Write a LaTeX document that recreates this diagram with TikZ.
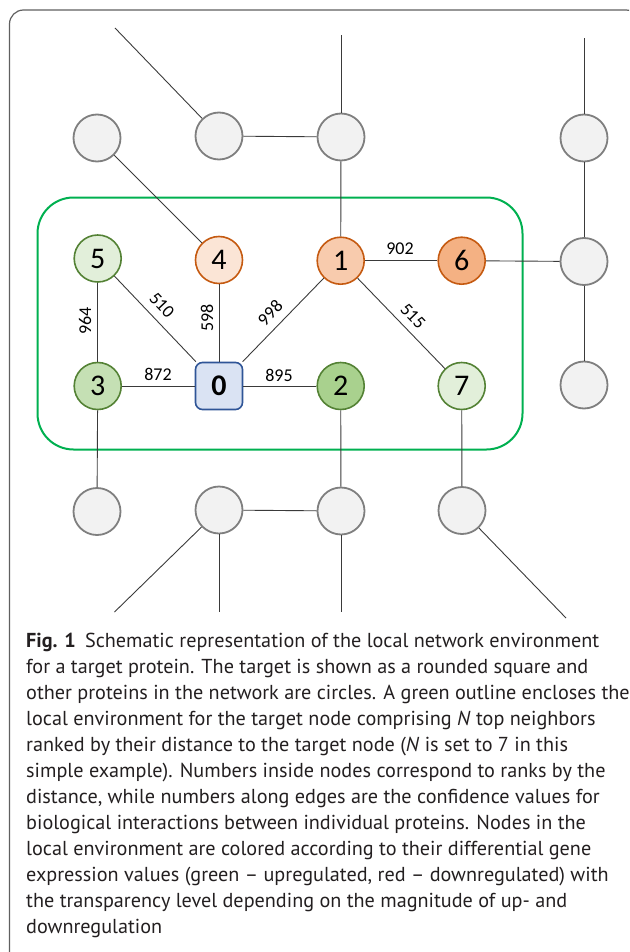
\documentclass[tikz,border=0pt]{standalone}
\usepackage{fontspec}
\setmainfont{PT Sans}
\newfontfamily\calib{Carlito}
\definecolor{framec}{HTML}{606060}
\definecolor{envc}{HTML}{00B050}
\definecolor{edgec}{HTML}{3A3A3A}
\definecolor{grayd}{HTML}{7F7F7F}
\definecolor{grayf}{HTML}{F2F2F2}
\definecolor{grd}{HTML}{548235}
\definecolor{ord}{HTML}{C55A11}
\definecolor{bld}{HTML}{2F5597}
\definecolor{blf}{HTML}{DAE3F3}
\definecolor{fa}{HTML}{E2EFDA}
\definecolor{fb}{HTML}{C5E0B4}
\definecolor{fc}{HTML}{A9D18E}
\definecolor{fd}{HTML}{FBE5D6}
\definecolor{fe}{HTML}{F8CBAD}
\definecolor{ff}{HTML}{F4B183}
\definecolor{captc}{HTML}{231F20}
\begin{document}
\begin{tikzpicture}[x=1pt,y=-1pt,
  gnode/.style={circle,draw=grayd,fill=grayf,line width=1.8pt,minimum size=47pt,inner sep=0pt},
  gnum/.style={circle,draw=grd,line width=1.6pt,minimum size=47pt,inner sep=0pt,font=\calib\fontsize{30}{30}\selectfont},
  onum/.style={circle,draw=ord,line width=1.6pt,minimum size=47pt,inner sep=0pt,font=\calib\fontsize{30}{30}\selectfont},
  tnode/.style={rectangle,rounded corners=7pt,draw=bld,fill=blf,line width=1.6pt,minimum size=47pt,inner sep=0pt,font=\calib\bfseries\fontsize{30}{30}\selectfont},
  lnk/.style={draw=edgec,line width=0.9pt},
  glnk/.style={draw=edgec,line width=0.9pt},
  elab/.style={font=\calib\fontsize{18}{18}\selectfont,inner sep=0pt,text=black}]
\useasboundingbox (0,0) rectangle (629,952);
\begin{scope}
\clip (0,0) rectangle (629,952);
\draw[framec,line width=1.2pt,rounded corners=14pt] (9.5,10) rectangle (640,1000);
\end{scope}
% local environment outline
\draw[envc,line width=2pt,rounded corners=36pt] (37.5,197.5) rectangle (522.5,449.5);
% outer network nodes
\node[gnode] (g1) at (97,138) {};
\node[gnode] (g2) at (219,136) {};
\node[gnode] (g3) at (341,137) {};
\node[gnode] (g4) at (584,138) {};
\node[gnode] (g5) at (584,261.5) {};
\node[gnode] (g6) at (584,385) {};
\node[gnode] (g7) at (97,511.5) {};
\node[gnode] (g8) at (219,510) {};
\node[gnode] (g9) at (341,511) {};
\node[gnode] (g10) at (462,510.5) {};
% local nodes
\node[tnode] (n0) at (219,386) {0};
\node[onum,fill=fe] (n1) at (340.7,260.7) {1};
\node[gnum,fill=fc] (n2) at (340.7,386) {2};
\node[gnum,fill=fb] (n3) at (97.7,386) {3};
\node[onum,fill=fd] (n4) at (219,260) {4};
\node[gnum,fill=fa] (n5) at (97.7,258.5) {5};
\node[onum,fill=ff] (n6) at (461.7,260.7) {6};
\node[gnum,fill=fa] (n7) at (461.7,386) {7};
% free ends
\coordinate (e1) at (115,28);
\coordinate (e2) at (341,35);
\coordinate (e3) at (584,38);
\coordinate (e4) at (114.5,612);
\coordinate (e5) at (219,612);
\coordinate (e6) at (341,612);
\coordinate (e7) at (566,618);
% outer edges
\draw[glnk] (g2) -- (e1);
\draw[glnk] (g3) -- (e2);
\draw[glnk] (g4) -- (e3);
\draw[glnk] (g2) -- (g3);
\draw[glnk] (g1) -- (n4);
\draw[glnk] (g3) -- (n1);
\draw[glnk] (g4) -- (g5);
\draw[glnk] (n6) -- (g5);
\draw[glnk] (g5) -- (g6);
\draw[glnk] (n3) -- (g7);
\draw[glnk] (n2) -- (g9);
\draw[glnk] (n7) -- (g10);
\draw[glnk] (g8) -- (g9);
\draw[glnk] (g8) -- (e4);
\draw[glnk] (g8) -- (e5);
\draw[glnk] (g9) -- (e6);
\draw[glnk] (g10) -- (e7);
% local edges
\draw[lnk] (n5) -- (n3);
\draw[lnk] (n5) -- (n0);
\draw[lnk] (n4) -- (n0);
\draw[lnk] (n1) -- (n0);
\draw[lnk] (n3) -- (n0);
\draw[lnk] (n0) -- (n2);
\draw[lnk] (n1) -- (n6);
\draw[lnk] (n1) -- (n7);
% edge labels
\node[elab] (l902) at (400,249) {902};
\node[elab] (l872) at (158,374) {872};
\node[elab] (l895) at (279,375) {895};
\node[elab,rotate=90] (l964) at (85,321) {964};
\node[elab,rotate=90] (l598) at (207,318) {598};
\node[elab,rotate=-46.6] (l510) at (162,305) {510};
\node[elab,rotate=45.7] (l998) at (270,313) {998};
\node[elab,rotate=-46] (l515) at (413,316) {515};
% caption
\node[anchor=north west,align=left,inner sep=0pt,text=captc,font=\fontsize{20.2}{26}\selectfont] (cap) at (26,633) {\textbf{Fig. 1}\hspace{0.45em}Schematic representation of the local network environment\\
for a target protein. The target is shown as a rounded square and\\
other proteins in the network are circles. A green outline encloses the\\
local environment for the target node comprising \textit{N} top neighbors\\
ranked by their distance to the target node (\textit{N} is set to 7 in this\\
simple example). Numbers inside nodes correspond to ranks by the\\
distance, while numbers along edges are the confidence values for\\
biological interactions between individual proteins. Nodes in the\\
local environment are colored according to their differential gene\\
expression values (green – upregulated, red – downregulated) with\\
the transparency level depending on the magnitude of up- and\\
downregulation};
\end{tikzpicture}
\end{document}
